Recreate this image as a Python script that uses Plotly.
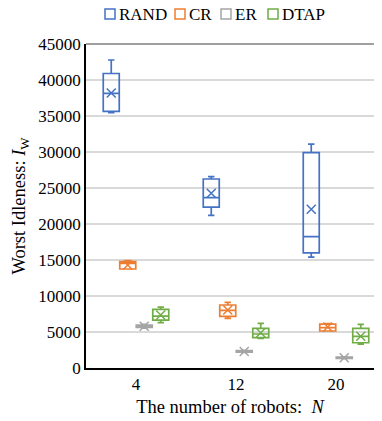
import plotly.graph_objects as go

robots = ["4", "12", "20"]
series = ["RAND", "CR", "ER", "DTAP"]
colors = ["#4472C4", "#ED7D31", "#A5A5A5", "#70AD47"]

lower = {"RAND": [35450, 21200, 15400], "CR": [13750, 6900, 5140],
         "ER": [5550, 2150, 1300], "DTAP": [6300, 4100, 3300]}
q1 = {"RAND": [35650, 22350, 16000], "CR": [13750, 7180, 5140],
      "ER": [5650, 2200, 1350], "DTAP": [6650, 4210, 3510]}
median = {"RAND": [38150, 23650, 18250], "CR": [14540, 8000, 5600],
          "ER": [5800, 2300, 1430], "DTAP": [7200, 4720, 4400]}
q3 = {"RAND": [40900, 26250, 29900], "CR": [14770, 8750, 6100],
      "ER": [5950, 2400, 1500], "DTAP": [8150, 5510, 5510]}
upper = {"RAND": [42780, 26580, 31100], "CR": [14900, 9120, 6150],
         "ER": [6050, 2450, 1550], "DTAP": [8450, 6200, 6070]}
mean = {"RAND": [38200, 24260, 22040], "CR": [14300, 8060, 5700],
        "ER": [5800, 2300, 1430], "DTAP": [7360, 4900, 4400]}

serif = "Liberation Serif, Times New Roman, serif"
W, H = 366, 421
ML, MT, MB, MR = 78, 36, 61, 0   # page body adds an 8px offset
PW = W - ML - MR
PH = H - MT - MB
slot = 0.165
fig = go.Figure()
for k, (s, c) in enumerate(zip(series, colors)):
    xs = [i + (k - 1.5) * slot for i in range(len(robots))]
    fig.add_trace(go.Box(
        name=s, x=xs, q1=q1[s], median=median[s], q3=q3[s],
        lowerfence=lower[s], upperfence=upper[s],
        width=slot * 0.97, whiskerwidth=0.4,
        line=dict(color=c, width=1.7), fillcolor="rgba(255,255,255,0)",
        boxpoints=False, showlegend=False,
    ))
    fig.add_trace(go.Scatter(
        x=xs, y=mean[s], mode="markers", showlegend=False,
        marker=dict(symbol="x-thin", size=9, line=dict(color=c, width=1.5), color=c),
        hoverinfo="skip",
    ))

# legend drawn as outlined squares + text (compact, like the reference)
leg_x = [97, 167, 213, 260]   # left px (figure coords) of each legend square
for s, c, lx in zip(series, colors, leg_x):
    fig.add_shape(type="rect", xref="paper", yref="paper",
                  x0=(lx - ML) / PW, x1=(lx + 10 - ML) / PW,
                  y0=(MT + PH - 11) / PH, y1=(MT + PH - 1) / PH,
                  line=dict(color=c, width=1.5), fillcolor="white")
    fig.add_annotation(text=s, xref="paper", yref="paper",
                       x=(lx + 12 - ML) / PW, y=(MT + PH - 6) / PH,
                       xanchor="left", yanchor="middle", showarrow=False,
                       font=dict(family=serif, size=17, color="#000000"))

fig.update_layout(
    width=W, height=H,
    margin=dict(l=ML, r=MR, t=MT, b=MB, autoexpand=False),
    paper_bgcolor="white", plot_bgcolor="white",
    font=dict(family=serif, size=17, color="#000000"),
    showlegend=False,
    xaxis=dict(range=[-0.5, 2.38], tickmode="array", tickvals=[0, 1, 2],
               ticktext=robots, showgrid=False, zeroline=False,
               showline=True, linecolor="#000000", linewidth=1.5,
               ticks="", tickfont=dict(size=17), automargin=False,
               title=dict(text="The number of robots:  <i>N</i>",
                          font=dict(size=18.5), standoff=7)),
    yaxis=dict(range=[0, 45000], dtick=5000, showgrid=True,
               gridcolor="#D9D9D9", gridwidth=1.5, zeroline=False,
               showline=True, linecolor="#000000", linewidth=1.5,
               ticks="", tickfont=dict(size=17), tickformat="d",
               automargin=False,
               title=dict(text="Worst Idleness: <i>I</i><sub>W</sub>",
                          font=dict(size=18.5), standoff=8)),
)
fig.add_shape(type="line", xref="paper", yref="paper", x0=0, x1=1, y0=1, y1=1,
              line=dict(color="#808080", width=1.5))

fig.write_html("out.html")
